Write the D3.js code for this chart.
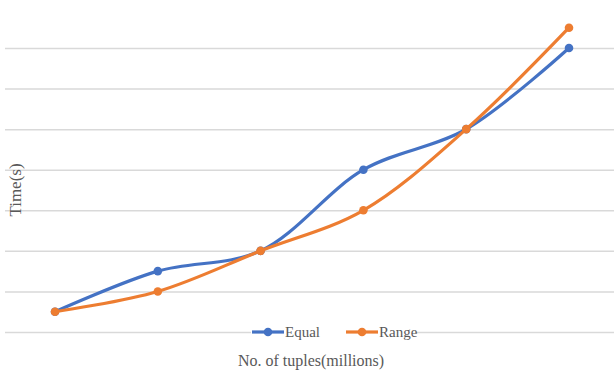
<!DOCTYPE html>
<html>
<head>
<meta charset="utf-8">
<script src="https://cdn.jsdelivr.net/npm/d3@7"></script>
<style>
  html, body { margin: 0; padding: 0; background: #fff; }
  svg { display: block; }
</style>
</head>
<body>
<svg id="chart" width="614" height="371"></svg>
<script>
// Run sizes (x categories) and timing for the two partitioning strategies
const categories = ["1", "2", "3", "4", "5", "6"];
const equalTimes = [0.5, 1.5, 2, 4, 5, 7];
const rangeTimes = [0.5, 1, 2, 3, 5, 7.5];
const gridTicks = [0, 1, 2, 3, 4, 5, 6, 7];

const seriesList = [
  { name: "Equal", values: equalTimes, color: "#4472C4" },
  { name: "Range", values: rangeTimes, color: "#ED7D31" }
];

const W = 614, H = 371;
const svg = d3.select("#chart");
const serif = "'Liberation Serif', 'Times New Roman', serif";

const x = d3.scaleBand().domain(categories).range([3.6, 620.4]);
const xc = d => x(d) + x.bandwidth() / 2;
const y = d3.scaleLinear().domain([0, 7]).range([332, 48]);

// Horizontal gridlines
svg.append("g")
  .attr("transform", "translate(5,0)")
  .call(d3.axisLeft(y).tickValues(gridTicks).tickSize(-(W - 5)).tickFormat(""))
  .call(g => g.select(".domain").remove())
  .call(g => g.selectAll(".tick line").attr("stroke", "#d9d9d9").attr("stroke-width", 1.5));

// Series lines and markers
const line = d3.line()
  .x((d, i) => xc(categories[i]))
  .y(d => y(d))
  .curve(d3.curveCatmullRom.alpha(0.5));

seriesList.forEach(s => {
  svg.append("path")
    .datum(s.values)
    .attr("fill", "none")
    .attr("stroke", s.color)
    .attr("stroke-width", 3.2)
    .attr("stroke-linejoin", "round")
    .attr("stroke-linecap", "round")
    .attr("d", line);
  svg.append("g").selectAll("circle")
    .data(s.values)
    .join("circle")
    .attr("cx", (d, i) => xc(categories[i]))
    .attr("cy", d => y(d))
    .attr("r", 4.3)
    .attr("fill", s.color);
});

// Legend
const legend = svg.append("g");
legend.append("rect").attr("x", 251).attr("y", 324).attr("width", 164).attr("height", 16).attr("fill", "#fff");
const legendPos = [252, 346];
seriesList.forEach((s, i) => {
  const lx = legendPos[i];
  legend.append("line")
    .attr("x1", lx).attr("x2", lx + 32)
    .attr("y1", 332).attr("y2", 332)
    .attr("stroke", s.color).attr("stroke-width", 3.2);
  legend.append("circle").attr("cx", lx + 16).attr("cy", 332).attr("r", 4.3).attr("fill", s.color);
  legend.append("text")
    .attr("x", lx + 33).attr("y", 337)
    .attr("font-family", serif)
    .attr("font-size", 15)
    .attr("fill", "#595959")
    .text(s.name);
});

// Axis titles
svg.append("text")
  .attr("x", 311).attr("y", 366)
  .attr("text-anchor", "middle")
  .attr("font-family", serif)
  .attr("font-size", 16)
  .attr("fill", "#595959")
  .text("No. of tuples(millions)");

svg.append("text")
  .attr("transform", "translate(21,190) rotate(-90)")
  .attr("text-anchor", "middle")
  .attr("font-family", serif)
  .attr("font-size", 17)
  .attr("fill", "#595959")
  .text("Time(s)");
</script>
</body>
</html>
